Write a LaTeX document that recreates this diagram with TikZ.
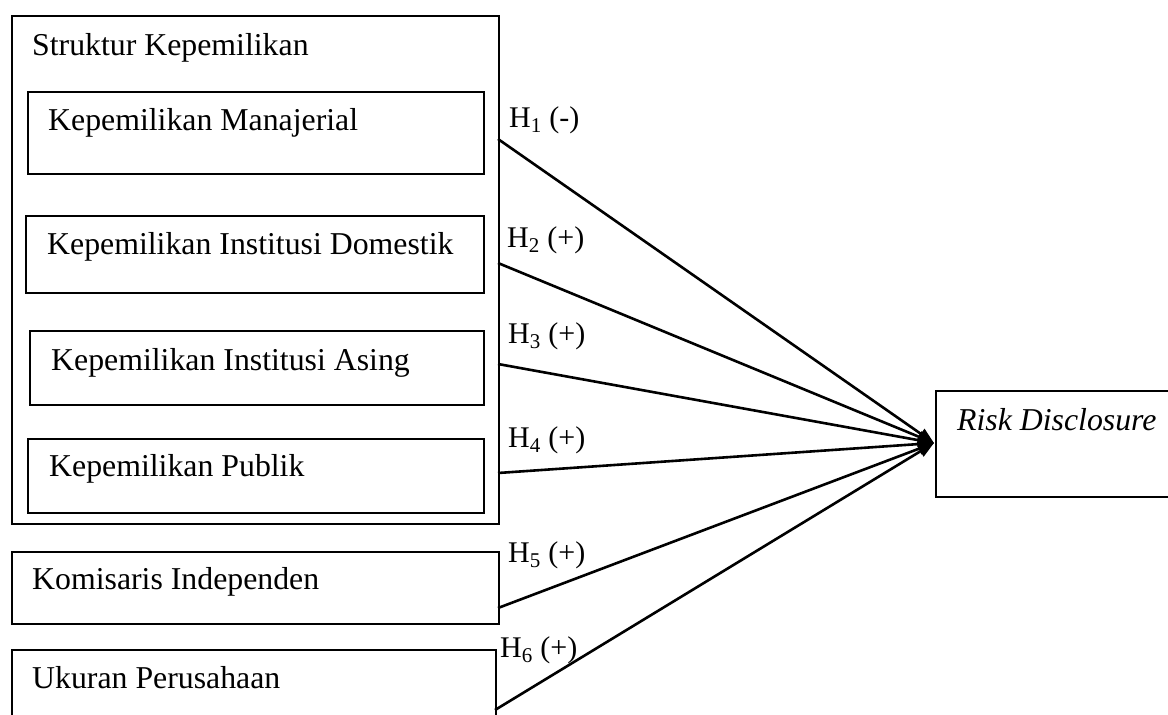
\documentclass[tikz,border=0pt]{standalone}
\usepackage{fontspec}
\setmainfont{Liberation Serif}
\usetikzlibrary{arrows.meta}
\begin{document}
\begin{tikzpicture}[x=1pt,y=-1pt,
  box/.style={draw=black, line width=2pt, rectangle, inner sep=0pt, anchor=north west},
  txt/.style={anchor=base west, inner sep=0pt, font=\fontsize{31.8}{36}\selectfont},
  hyp/.style={anchor=base west, inner sep=0pt, font=\fontsize{30}{34}\selectfont},
  conn/.style={line width=2.6pt, -{Triangle[length=16pt,width=12pt]}}]
\useasboundingbox (0,0) rectangle (1168,715);
% outer group box
\node[box, minimum width=487pt, minimum height=508pt] (struktur) at (11,15) {};
\node[txt] (tstruktur) at (32,55) {Struktur Kepemilikan};
% inner boxes
\node[box, minimum width=456pt, minimum height=82pt] (manaj) at (27,91) {};
\node[txt] (tmanaj) at (48,130) {Kepemilikan Manajerial};
\node[box, minimum width=458pt, minimum height=77pt] (domes) at (25,215) {};
\node[txt] (tdomes) at (47,254) {Kepemilikan Institusi Domestik};
\node[box, minimum width=454pt, minimum height=74pt] (asing) at (29,330) {};
\node[txt] (tasing) at (51,370) {Kepemilikan Institusi Asing};
\node[box, minimum width=456pt, minimum height=74pt] (publik) at (27,438) {};
\node[txt] (tpublik) at (49,476) {Kepemilikan Publik};
% other boxes
\node[box, minimum width=487pt, minimum height=72pt] (komis) at (11,551) {};
\node[txt] (tkomis) at (32,589) {Komisaris Independen};
\node[box, minimum width=484pt, minimum height=90pt] (ukuran) at (11,649) {};
\node[txt] (tukuran) at (32,688) {Ukuran Perusahaan};
% dependent box
\node[box, minimum width=260pt, minimum height=106pt] (risk) at (935,390) {};
\node[txt] (trisk) at (957,430) {\itshape Risk Disclosure};
% start points
\coordinate (s1) at (498,139);
\coordinate (s2) at (498,263);
\coordinate (s3) at (498,364);
\coordinate (s4) at (498,473);
\coordinate (s5) at (498,608);
\coordinate (s6) at (495,710);
\coordinate (tip) at (934,443);
\draw[conn] (s1) -- (tip);
\draw[conn] (s2) -- (tip);
\draw[conn] (s3) -- (tip);
\draw[conn] (s4) -- (tip);
\draw[conn] (s5) -- (tip);
\draw[conn] (s6) -- (tip);
% labels
\node[hyp] (h1) at (509,127) {H\textsubscript{1} (-)};
\node[hyp] (h2) at (507,247) {H\textsubscript{2} (+)};
\node[hyp] (h3) at (508,343) {H\textsubscript{3} (+)};
\node[hyp] (h4) at (508,447) {H\textsubscript{4} (+)};
\node[hyp] (h5) at (508,562) {H\textsubscript{5} (+)};
\node[hyp] (h6) at (500,657) {H\textsubscript{6} (+)};
\end{tikzpicture}
\end{document}
